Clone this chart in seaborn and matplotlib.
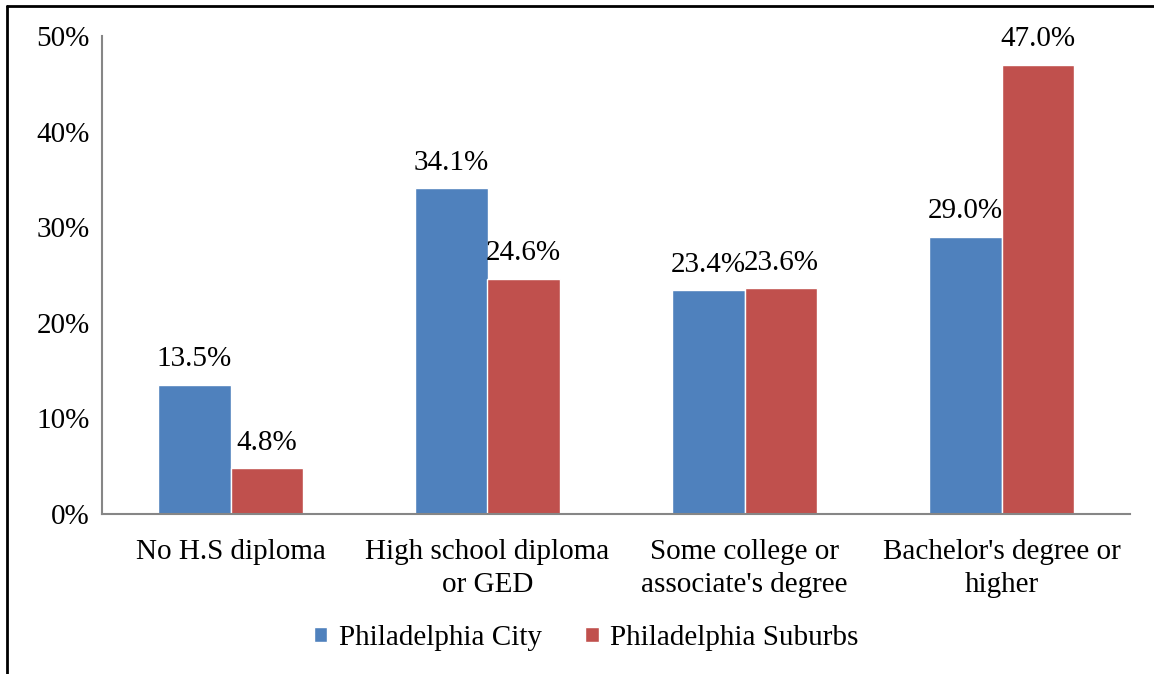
import pandas as pd
import numpy as np
import matplotlib
matplotlib.use("Agg")
import matplotlib.pyplot as plt
import seaborn as sns
from matplotlib.ticker import FixedLocator, FuncFormatter
from matplotlib.lines import Line2D

categories = ["No H.S diploma", "High school diploma\nor GED",
              "Some college or\nassociate's degree", "Bachelor's degree or\nhigher"]
series = ["Philadelphia City", "Philadelphia Suburbs"]
city = [13.5, 34.1, 23.4, 29.0]
suburbs = [4.8, 24.6, 23.6, 47.0]
yticks = [0, 10, 20, 30, 40, 50]

df = pd.DataFrame({
    "category": categories * 2,
    "area": [series[0]] * 4 + [series[1]] * 4,
    "value": city + suburbs,
})

sns.set_style("white")
plt.rcParams["font.family"] = ["Liberation Serif", "DejaVu Serif"]
plt.rcParams["font.size"] = 21
plt.rcParams["text.color"] = "black"
plt.rcParams["xtick.color"] = "black"
plt.rcParams["ytick.color"] = "black"

fig = plt.figure(figsize=(11.54, 6.74), dpi=100)
ax = fig.add_axes([102 / 1154, 1 - 514 / 674, 1028 / 1154, 478 / 674])

sns.barplot(data=df, x="category", y="value", hue="area", order=categories,
            hue_order=series, palette=["#4F81BD", "#C0504D"], width=0.565,
            saturation=1, ax=ax, legend=True)

for cont in ax.containers:
    ax.bar_label(cont, labels=[f"{v:.1f}%" for v in cont.datavalues],
                 padding=9, fontsize=21, color="black")

ax.set_ylim(0, 50)
ax.set_xlim(-0.5, 3.5)
ax.set_yticks(yticks)
ax.yaxis.set_major_formatter(FuncFormatter(lambda v, p: f"{v:.0f}%"))
ax.xaxis.set_major_locator(FixedLocator([-0.5, 0.5, 1.5, 2.5, 3.5]))
ax.xaxis.set_minor_locator(FixedLocator([0, 1, 2, 3]))
ax.set_xticklabels([], minor=False)
ax.set_xticklabels(categories, minor=True, fontsize=21, linespacing=1.35)
ax.tick_params(axis="x", which="major", length=7, width=1.5, color="#868686", direction="out")
ax.tick_params(axis="x", which="minor", length=0, pad=18)
ax.tick_params(axis="y", length=7, width=1.5, color="#868686", direction="out",
               labelsize=21, pad=2)
ax.set_xlabel("")
ax.set_ylabel("")
for s in ["top", "right"]:
    ax.spines[s].set_visible(False)
for s in ["left", "bottom"]:
    ax.spines[s].set_color("#868686")
    ax.spines[s].set_linewidth(1.5)

ax.legend(loc="center", bbox_to_anchor=(0.508, 1 - 638 / 674), bbox_transform=fig.transFigure,
          ncol=2, frameon=False, fontsize=21, handlelength=0.45, handleheight=0.45,
          handletextpad=0.4, columnspacing=1.5)

# outer frame (cut off at right and bottom)
fig.add_artist(Line2D([7 / 1154, 1], [1 - 6 / 674, 1 - 6 / 674], color="black", lw=2,
                      transform=fig.transFigure))
fig.add_artist(Line2D([7 / 1154, 7 / 1154], [0, 1 - 6 / 674], color="black", lw=2,
                      transform=fig.transFigure))

fig.savefig("out.png", dpi=100, facecolor="white")
